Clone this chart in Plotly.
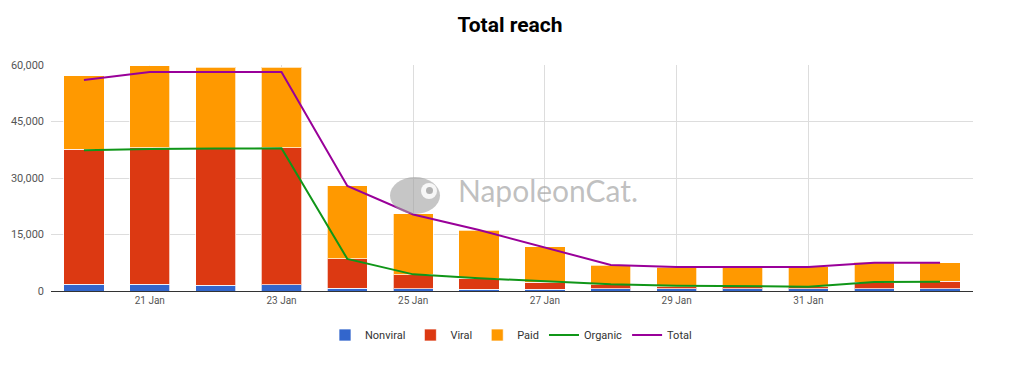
import plotly.graph_objects as go

days = ["20 Jan", "21 Jan", "22 Jan", "23 Jan", "24 Jan", "25 Jan", "26 Jan",
        "27 Jan", "28 Jan", "29 Jan", "30 Jan", "31 Jan", "1 Feb", "2 Feb"]
tick_labels = ["21 Jan", "23 Jan", "25 Jan", "27 Jan", "29 Jan", "31 Jan"]
y_ticks = [0, 15000, 30000, 45000, 60000]

nonviral = [1800, 1800, 1500, 1600, 700, 550, 530, 450, 600, 600, 600, 600, 600, 600]
viral = [35900, 36250, 36400, 36400, 7900, 3800, 2900, 1850, 1100, 550, 500, 550, 1700, 1950]
paid = [19400, 21700, 21500, 21400, 19400, 16100, 12700, 9500, 5200, 5200, 5250, 5250, 5400, 4950]
organic = [37350, 37700, 37800, 37900, 8500, 4420, 3400, 2500, 1770, 1420, 1240, 1150, 2390, 2480]
total = [56000, 58150, 58150, 58150, 27900, 20300, 16200, 11600, 6900, 6370, 6370, 6370, 7520, 7520]

colors = {"Nonviral": "#3366cc", "Viral": "#dc3912", "Paid": "#ff9900",
          "Organic": "#109618", "Total": "#990099"}

fig = go.Figure()
for name, vals in [("Nonviral", nonviral), ("Viral", viral), ("Paid", paid)]:
    fig.add_trace(go.Bar(
        x=days, y=vals, name=name,
        marker=dict(color=colors[name], line=dict(color="rgba(255,255,255,0.7)", width=1)),
    ))
for name, vals in [("Organic", organic), ("Total", total)]:
    fig.add_trace(go.Scatter(
        x=days, y=vals, name=name, mode="lines",
        line=dict(color=colors[name], width=2),
    ))

# page body has an 8px margin; screen plot area is x 51..973, y 65..291
OFF = 8
W, H = 1024, 365
L, R, T, B = 51 - OFF, 1024 - 973 + OFF, 65 - OFF, 365 - 291 + OFF
pw, ph = W - L - R, H - T - B


def px(x):
    return (x - 51) / pw


def py(y):
    return (291 - y) / ph


shapes = [
    dict(type="circle", xref="paper", yref="paper", layer="above",
         x0=px(390), x1=px(440), y0=py(214), y1=py(177),
         fillcolor="rgba(160,160,160,0.6)", line=dict(width=0)),
    dict(type="circle", xref="paper", yref="paper", layer="above",
         x0=px(421), x1=px(437), y0=py(199), y1=py(183),
         fillcolor="rgba(255,255,255,0.85)", line=dict(width=0)),
    dict(type="circle", xref="paper", yref="paper", layer="above",
         x0=px(426), x1=px(433), y0=py(194), y1=py(187),
         fillcolor="rgba(160,160,160,0.8)", line=dict(width=0)),
]

fig.update_layout(
    width=W, height=H,
    margin=dict(l=L, r=R, t=T, b=B, pad=0, autoexpand=False),
    paper_bgcolor="white", plot_bgcolor="white",
    barmode="stack", bargap=0.39,
    font=dict(family="Roboto, Arial, sans-serif", size=11, color="#444444"),
    title=dict(text="<b>Total reach</b>", x=(510 - OFF) / W, xanchor="center",
               y=1 - (25 - OFF) / H, yanchor="middle", yref="container",
               font=dict(family="Roboto, Arial, sans-serif", size=21, color="#000000")),
    xaxis=dict(type="category", tickmode="array", tickvals=tick_labels, ticktext=tick_labels,
               range=[-0.5, len(days) - 0.5], showgrid=True, gridcolor="#dddddd",
               ticks="", showline=True, linecolor="#333333", linewidth=1, automargin=False,
               tickfont=dict(size=10, color="#555555")),
    yaxis=dict(range=[0, 60000], tickvals=y_ticks, tickformat=",", showgrid=True,
               gridcolor="#dddddd", zeroline=False, ticks="", ticklabelstandoff=6,
               automargin=False, tickfont=dict(size=11, color="#555555")),
    legend=dict(orientation="h", x=px(511), xanchor="center", y=py(335), yanchor="middle",
                font=dict(size=11, color="#333333"), traceorder="normal",
                itemwidth=30),
    showlegend=True,
    shapes=shapes,
    annotations=[dict(text="NapoleonCat.", xref="paper", yref="paper",
                      x=px(548), y=py(190), xanchor="center", yanchor="middle",
                      showarrow=False,
                      font=dict(family="Lato, Roboto, sans-serif", size=30,
                                color="rgba(150,150,150,0.6)"))],
)

fig.write_html("out.html")
